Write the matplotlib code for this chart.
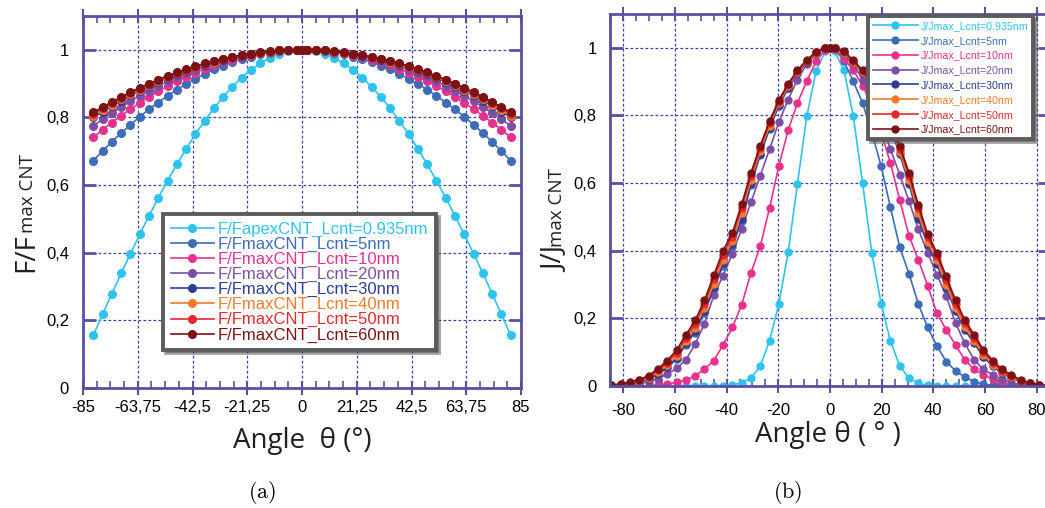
import matplotlib.pyplot as plt
from matplotlib.ticker import FixedLocator, MultipleLocator, FuncFormatter

plt.rcParams['font.family'] = ['Liberation Sans', 'DejaVu Sans']
plt.rcParams['mathtext.fontset'] = 'cm'

# series (same order in both panels)
lengths = ['0.935nm', '5nm', '10nm', '20nm', '30nm', '40nm', '50nm', '60nm']
colors = ['#2ec3ee', '#3d6cb8', '#e8318c', '#7e4ea6', '#2d3d96',
          '#f47b2c', '#e5282c', '#7b1214']

# ---- panel (a): F/Fmax vs angle ----
theta_F = [-81, -77.4, -73.8, -70.2, -66.6, -63, -59.4, -55.8, -52.2, -48.6, -45,
           -41.4, -37.8, -34.2, -30.6, -27, -23.4, -19.8, -16.2, -12.6, -9, -5.4,
           -1.8, 0, 1.8, 5.4, 9, 12.6, 16.2, 19.8, 23.4, 27, 30.6, 34.2, 37.8, 41.4,
           45, 48.6, 52.2, 55.8, 59.4, 63, 66.6, 70.2, 73.8, 77.4, 81]

F_0935 = [0.156, 0.218, 0.279, 0.339, 0.397, 0.454, 0.509, 0.562, 0.613, 0.661, 0.707,
          0.750, 0.790, 0.827, 0.861, 0.891, 0.918, 0.941, 0.960, 0.976, 0.988, 0.996,
          1.0, 1.0, 1.0, 0.996, 0.988, 0.976, 0.960, 0.941, 0.918, 0.891, 0.861, 0.827,
          0.790, 0.750, 0.707, 0.661, 0.613, 0.562, 0.509, 0.454, 0.397, 0.339, 0.279,
          0.218, 0.156]
F_5 = [0.672, 0.701, 0.728, 0.754, 0.778, 0.802, 0.824, 0.844, 0.864, 0.882, 0.899,
       0.914, 0.928, 0.942, 0.953, 0.964, 0.973, 0.980, 0.987, 0.992, 0.996, 0.999,
       1.0, 1.0, 1.0, 0.999, 0.996, 0.992, 0.987, 0.980, 0.973, 0.964, 0.953, 0.942,
       0.928, 0.914, 0.899, 0.882, 0.864, 0.844, 0.824, 0.802, 0.778, 0.754, 0.728,
       0.701, 0.672]
F_10 = [0.741, 0.764, 0.785, 0.805, 0.825, 0.843, 0.861, 0.877, 0.893, 0.907, 0.920,
        0.932, 0.944, 0.954, 0.963, 0.971, 0.978, 0.985, 0.990, 0.994, 0.997, 0.999,
        1.0, 1.0, 1.0, 0.999, 0.997, 0.994, 0.990, 0.985, 0.978, 0.971, 0.963, 0.954,
        0.944, 0.932, 0.920, 0.907, 0.893, 0.877, 0.861, 0.843, 0.825, 0.805, 0.785,
        0.764, 0.741]
F_20 = [0.775, 0.795, 0.813, 0.831, 0.848, 0.864, 0.879, 0.893, 0.907, 0.919, 0.930,
        0.941, 0.951, 0.960, 0.968, 0.975, 0.981, 0.987, 0.991, 0.995, 0.997, 0.999,
        1.0, 1.0, 1.0, 0.999, 0.997, 0.995, 0.991, 0.987, 0.981, 0.975, 0.968, 0.960,
        0.951, 0.941, 0.930, 0.919, 0.907, 0.893, 0.879, 0.864, 0.848, 0.831, 0.813,
        0.795, 0.775]
F_30 = [0.800, 0.817, 0.834, 0.850, 0.865, 0.879, 0.892, 0.905, 0.917, 0.928, 0.938,
        0.948, 0.956, 0.964, 0.971, 0.978, 0.983, 0.988, 0.992, 0.995, 0.998, 0.999,
        1.0, 1.0, 1.0, 0.999, 0.998, 0.995, 0.992, 0.988, 0.983, 0.978, 0.971, 0.964,
        0.956, 0.948, 0.938, 0.928, 0.917, 0.905, 0.892, 0.879, 0.865, 0.850, 0.834,
        0.817, 0.800]
F_40 = [0.805, 0.822, 0.838, 0.854, 0.868, 0.882, 0.895, 0.907, 0.919, 0.930, 0.940,
        0.949, 0.957, 0.965, 0.972, 0.978, 0.984, 0.988, 0.992, 0.995, 0.998, 0.999,
        1.0, 1.0, 1.0, 0.999, 0.998, 0.995, 0.992, 0.988, 0.984, 0.978, 0.972, 0.965,
        0.957, 0.949, 0.940, 0.930, 0.919, 0.907, 0.895, 0.882, 0.868, 0.854, 0.838,
        0.822, 0.805]
F_50 = [0.810, 0.827, 0.842, 0.857, 0.872, 0.885, 0.898, 0.910, 0.921, 0.932, 0.941,
        0.950, 0.959, 0.966, 0.973, 0.979, 0.984, 0.989, 0.992, 0.995, 0.998, 0.999,
        1.0, 1.0, 1.0, 0.999, 0.998, 0.995, 0.992, 0.989, 0.984, 0.979, 0.973, 0.966,
        0.959, 0.950, 0.941, 0.932, 0.921, 0.910, 0.898, 0.885, 0.872, 0.857, 0.842,
        0.827, 0.810]
F_60 = [0.815, 0.831, 0.846, 0.861, 0.875, 0.888, 0.900, 0.912, 0.923, 0.933, 0.943,
        0.952, 0.960, 0.967, 0.974, 0.979, 0.985, 0.989, 0.993, 0.996, 0.998, 0.999,
        1.0, 1.0, 1.0, 0.999, 0.998, 0.996, 0.993, 0.989, 0.985, 0.979, 0.974, 0.967,
        0.960, 0.952, 0.943, 0.933, 0.923, 0.912, 0.900, 0.888, 0.875, 0.861, 0.846,
        0.831, 0.815]

# ---- panel (b): J/Jmax vs angle ----
theta_J = [-84.6, -81, -77.4, -73.8, -70.2, -66.6, -63, -59.4, -55.8, -52.2, -48.6, -45,
           -41.4, -37.8, -34.2, -30.6, -27, -23.4, -19.8, -16.2, -12.6, -9, -5.4, -1.8,
           0, 1.8, 5.4, 9, 12.6, 16.2, 19.8, 23.4, 27, 30.6, 34.2, 37.8, 41.4, 45, 48.6,
           52.2, 55.8, 59.4, 63, 66.6, 70.2, 73.8, 77.4, 81, 84.6]

J_0935 = [0, 0, 0, 0, 0, 0, 0, 0, 0, 0, 0, 0,
          0.001, 0.003, 0.010, 0.023, 0.059, 0.134, 0.243, 0.395, 0.598, 0.797, 0.931, 0.990,
          1.0,
          0.990, 0.934, 0.799, 0.600, 0.393, 0.243, 0.133, 0.059, 0.023, 0.008, 0.002, 0.0,
          0, 0, 0, 0, 0, 0, 0, 0, 0, 0, 0, 0]
J_5 = [0.001, 0.003, 0.006, 0.012, 0.020, 0.034, 0.053, 0.080, 0.122, 0.158, 0.217, 0.286,
       0.356, 0.412, 0.488, 0.594, 0.682, 0.760, 0.829, 0.880, 0.925, 0.957, 0.985, 1.0,
       1.0,
       0.999, 0.960, 0.901, 0.837, 0.750, 0.650, 0.528, 0.410, 0.332, 0.242, 0.173, 0.118,
       0.072, 0.045, 0.026, 0.013, 0.005, 0.002, 0.001, 0.0, 0.0, 0.0, 0.0, 0.0]
J_10 = [0.0, 0.0, 0.0, 0.0, 0.001, 0.003, 0.006, 0.011, 0.018, 0.030, 0.050, 0.075,
        0.121, 0.173, 0.240, 0.334, 0.413, 0.526, 0.651, 0.756, 0.837, 0.901, 0.960, 0.995,
        1.0,
        0.997, 0.967, 0.934, 0.888, 0.830, 0.750, 0.659, 0.550, 0.444, 0.373, 0.297, 0.215,
        0.166, 0.121, 0.077, 0.049, 0.033, 0.020, 0.010, 0.004, 0.002, 0.001, 0.0, 0.0]
J_20 = [0.0, 0.001, 0.003, 0.007, 0.013, 0.022, 0.035, 0.052, 0.077, 0.124, 0.184, 0.268,
        0.326, 0.391, 0.464, 0.543, 0.622, 0.700, 0.780, 0.847, 0.906, 0.952, 0.982, 1.0,
        1.0,
        1.0, 0.982, 0.952, 0.906, 0.847, 0.780, 0.700, 0.625, 0.546, 0.464, 0.393, 0.329,
        0.266, 0.186, 0.126, 0.077, 0.049, 0.033, 0.020, 0.010, 0.004, 0.001, 0.0, 0.0]
J_30 = [0.001, 0.003, 0.007, 0.013, 0.022, 0.036, 0.056, 0.083, 0.126, 0.162, 0.222, 0.292,
        0.363, 0.420, 0.494, 0.600, 0.686, 0.763, 0.831, 0.882, 0.926, 0.958, 0.985, 1.0,
        1.0,
        1.0, 0.985, 0.957, 0.925, 0.881, 0.830, 0.762, 0.685, 0.598, 0.495, 0.417, 0.360,
        0.290, 0.222, 0.166, 0.126, 0.086, 0.058, 0.037, 0.024, 0.012, 0.006, 0.002, 0.0]
J_40 = [0.002, 0.004, 0.008, 0.015, 0.025, 0.041, 0.062, 0.090, 0.133, 0.172, 0.232, 0.302,
        0.374, 0.430, 0.512, 0.610, 0.694, 0.770, 0.836, 0.886, 0.929, 0.960, 0.986, 1.0,
        1.0,
        1.0, 0.986, 0.959, 0.928, 0.885, 0.835, 0.769, 0.693, 0.609, 0.511, 0.427, 0.372,
        0.300, 0.231, 0.175, 0.134, 0.092, 0.063, 0.041, 0.027, 0.014, 0.008, 0.002, 0.001]
J_50 = [0.002, 0.005, 0.010, 0.017, 0.028, 0.046, 0.069, 0.099, 0.142, 0.184, 0.242, 0.316,
        0.388, 0.442, 0.527, 0.620, 0.703, 0.777, 0.841, 0.890, 0.932, 0.962, 0.987, 1.0,
        1.0,
        1.0, 0.988, 0.961, 0.931, 0.889, 0.840, 0.776, 0.702, 0.620, 0.526, 0.440, 0.384,
        0.314, 0.243, 0.186, 0.143, 0.100, 0.069, 0.045, 0.030, 0.016, 0.009, 0.003, 0.001]
J_60 = [0.003, 0.006, 0.011, 0.019, 0.031, 0.051, 0.075, 0.106, 0.151, 0.194, 0.253, 0.327,
        0.400, 0.452, 0.537, 0.630, 0.711, 0.783, 0.846, 0.893, 0.934, 0.964, 0.988, 1.0,
        1.0,
        1.0, 0.990, 0.963, 0.934, 0.893, 0.846, 0.783, 0.711, 0.630, 0.536, 0.449, 0.393,
        0.324, 0.253, 0.195, 0.151, 0.107, 0.075, 0.049, 0.033, 0.018, 0.010, 0.003, 0.001]

F_series = [F_0935, F_5, F_10, F_20, F_30, F_40, F_50, F_60]
J_series = [J_0935, J_5, J_10, J_20, J_30, J_40, J_50, J_60]
F_labels = ['F/FapexCNT_Lcnt=' + lengths[0]] + ['F/FmaxCNT_Lcnt=' + s for s in lengths[1:]]
J_labels = ['J/Jmax_Lcnt=' + s for s in lengths]

xticks_F = [-85, -63.75, -42.5, -21.25, 0, 21.25, 42.5, 63.75, 85]
xticks_J = [-80, -60, -40, -20, 0, 20, 40, 60, 80]
yticks = [0, 0.2, 0.4, 0.6, 0.8, 1.0]

spine_c = '#5a50a2'
grid_c = '#3540a4'
text_c = '#231f20'
label_font = ['Open Sans', 'DejaVu Sans']

W, H = 1045, 508
fig = plt.figure(figsize=(W / 100, H / 100), dpi=100)
axF = fig.add_axes([83 / W, 1 - 388 / H, 438 / W, 372 / H])
axJ = fig.add_axes([610.4 / W, 1 - 386 / H, 439.2 / W, 372 / H])

comma = FuncFormatter(lambda v, pos: f'{v:g}'.replace('.', ','))


def style(ax, ticks, minor, xlim, xpad):
    ax.set_xlim(*xlim)
    ax.set_ylim(0, 1.1)
    ax.xaxis.set_major_locator(FixedLocator(ticks))
    ax.xaxis.set_minor_locator(MultipleLocator(minor))
    ax.set_yticks(yticks)
    ax.xaxis.set_major_formatter(comma)
    ax.yaxis.set_major_formatter(comma)
    for s in ax.spines.values():
        s.set_color(spine_c)
        s.set_linewidth(2)
    ax.set_axisbelow(True)
    ax.grid(True, which='major', color=grid_c, linestyle=(0, (2.2, 1.8)), linewidth=0.9)
    ax.tick_params(axis='x', which='major', direction='inout', length=10, width=1.5,
                   color=spine_c, top=True, pad=xpad, labelsize=12)
    ax.tick_params(axis='x', which='minor', direction='in', length=5, width=1.2,
                   color=spine_c, top=True)
    ax.tick_params(axis='y', which='major', direction='in', length=9, width=2,
                   color=spine_c, right=True, pad=10, labelsize=12)


for y, lab, c in zip(F_series, F_labels, colors):
    axF.plot(theta_F, y, '-o', color=c, lw=1.2, ms=5.5, mec=c, label=lab)
for y, lab, c in zip(J_series, J_labels, colors):
    axJ.plot(theta_J, y, '-o', color=c, lw=1.2, ms=5, mec=c, label=lab)

style(axF, xticks_F, 5.3125, (-85, 85), 3.5)
style(axJ, xticks_J, 5, (-85, 85), 7.5)

legF = axF.legend(loc='upper left', bbox_to_anchor=(163 / W, 1 - 214 / H),
                  bbox_transform=fig.transFigure, fontsize=12, handlelength=2.6,
                  handletextpad=0.25, labelspacing=0.0, borderpad=0.45,
                  borderaxespad=0, fancybox=False, framealpha=1, edgecolor='#5c5c5c',
                  shadow=True)
legF.get_frame().set_linewidth(2.8)
for t, c in zip(legF.get_texts(), colors):
    t.set_color(c)

legJ = axJ.legend(loc='upper left', bbox_to_anchor=(868 / W, 1 - 16 / H),
                  bbox_transform=fig.transFigure, fontsize=7.7, handlelength=4.2,
                  handletextpad=0.3, labelspacing=0.45, borderpad=0.45,
                  borderaxespad=0, fancybox=False, framealpha=1, edgecolor='#5c5c5c',
                  shadow=True)
legJ.get_frame().set_linewidth(2.8)
for t, c in zip(legJ.get_texts(), colors):
    t.set_color(c)

# x labels
fig.text(302 / W, 1 - 448 / H, 'Angle  \u03b8 (\u00b0)', ha='center', va='baseline',
         fontsize=20, family=label_font, color=text_c)
fig.text(828 / W, 1 - 442 / H, 'Angle \u03b8 ( \u00b0 )', ha='center', va='baseline',
         fontsize=20, family=label_font, color=text_c)

# y labels: big part + smaller "max CNT" on the same baseline
fig.canvas.draw()
renderer = fig.canvas.get_renderer()
for x_px, y_px, big in [(33, 272, 'F/F'), (562, 272, 'J/J')]:
    t1 = fig.text(x_px / W, 1 - y_px / H, big, rotation=90, rotation_mode='anchor',
                  ha='left', va='baseline', fontsize=20, family=label_font, color=text_c)
    bb = t1.get_window_extent(renderer)
    fig.text(x_px / W, bb.y1 / H, 'max CNT', rotation=90, rotation_mode='anchor',
             ha='left', va='baseline', fontsize=13.5, family=label_font, color=text_c)

fig.text(262 / W, 1 - 492 / H, r'$\mathrm{(a)}$', ha='center', va='center', fontsize=16)
fig.text(788 / W, 1 - 492 / H, r'$\mathrm{(b)}$', ha='center', va='center', fontsize=16)

fig.savefig('out.png', dpi=100)
